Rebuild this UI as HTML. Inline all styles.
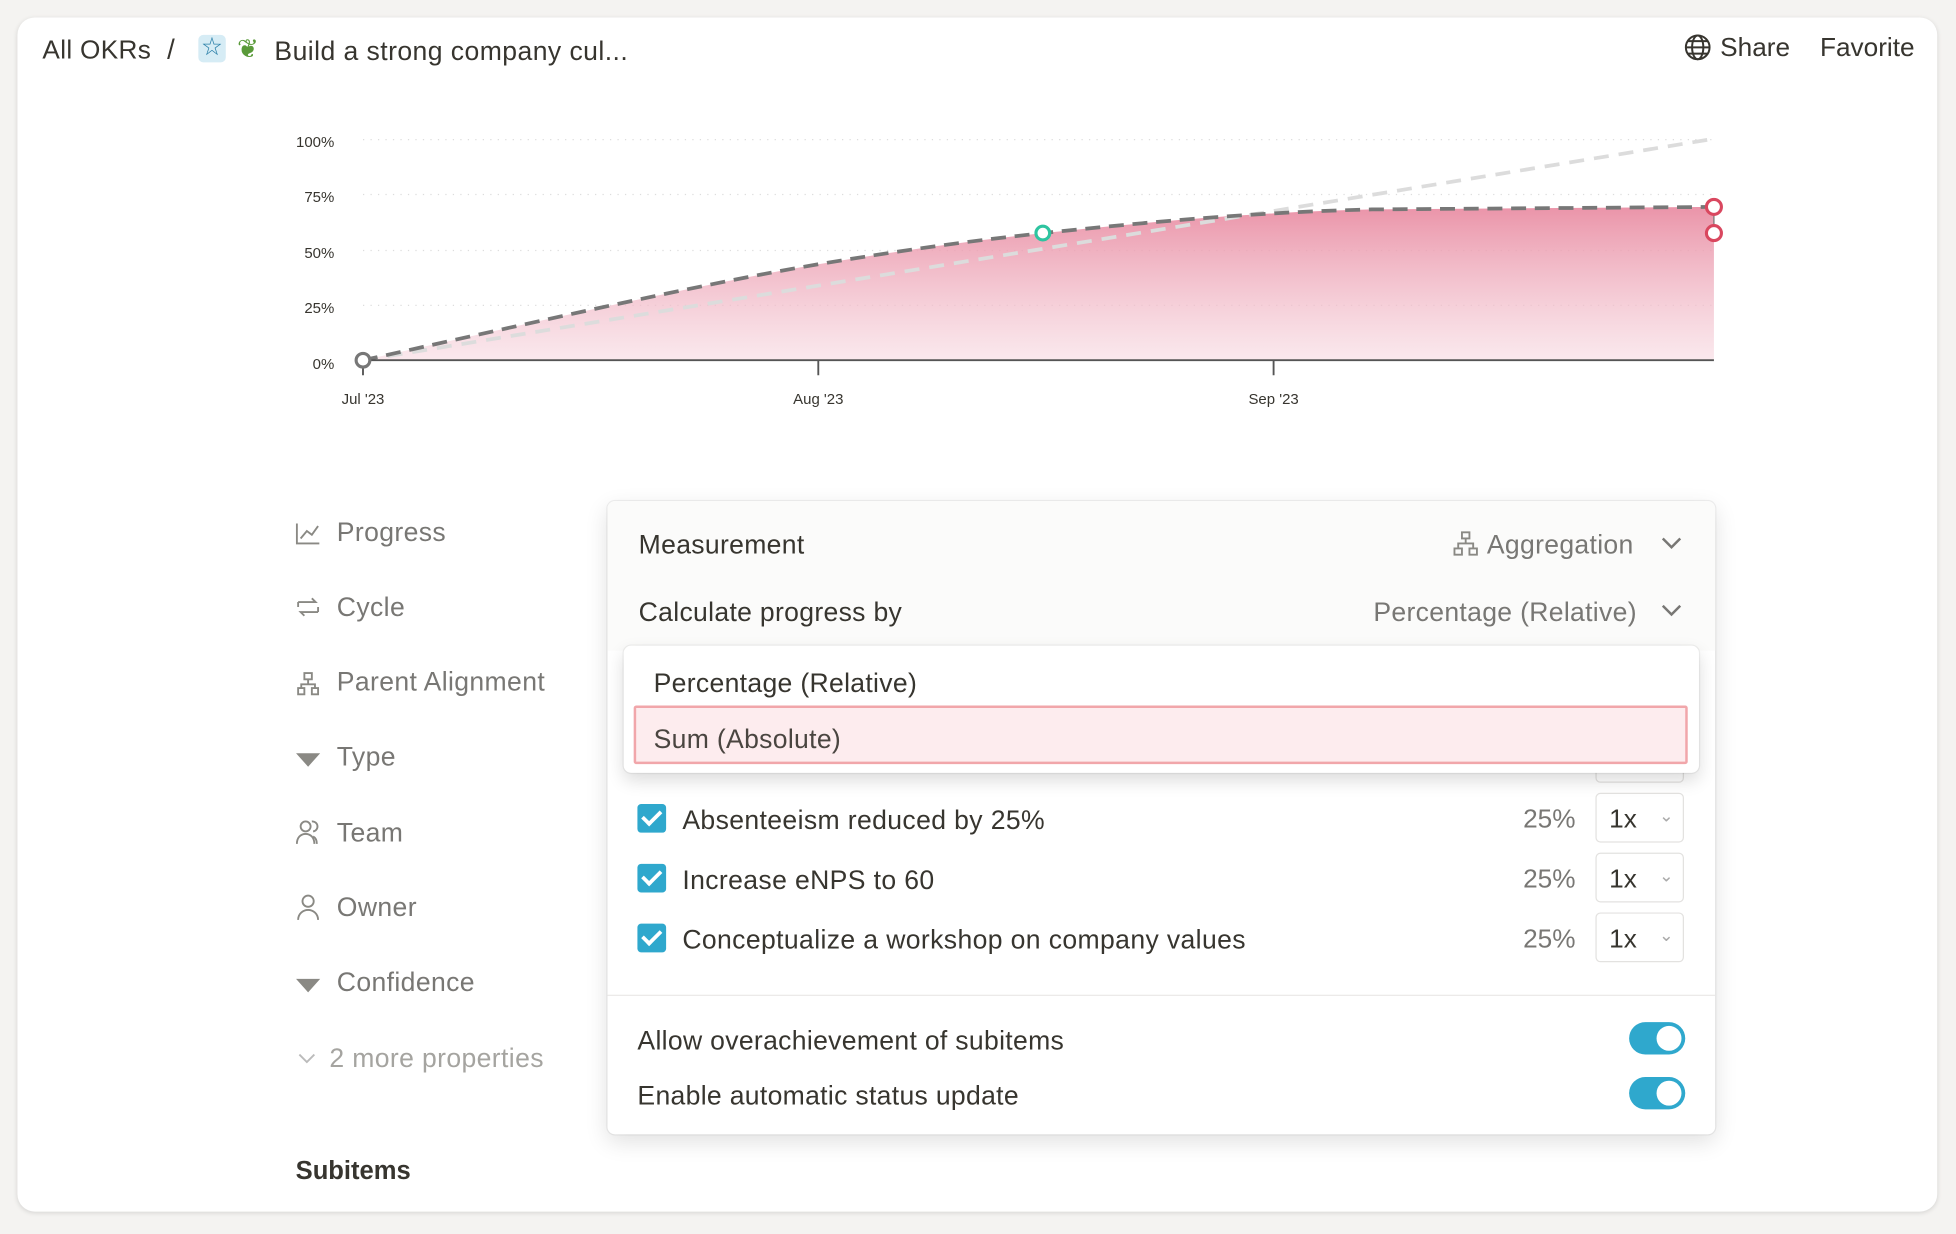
<!DOCTYPE html>
<html><head><meta charset="utf-8"><style>
html,body{margin:0;padding:0;width:1956px;height:1234px;overflow:hidden;background:#f4f3f1;font-family:"Liberation Sans","Noto Sans CJK JP",sans-serif;color:#37352f}
#s{position:absolute;left:0;top:0;width:1568px;height:990px;transform:scale(1.2474,1.2465);transform-origin:0 0}
.t{letter-spacing:.25px}
.card{position:absolute;left:14px;top:14px;width:1539px;height:958px;background:#fff;border-radius:14px;box-shadow:0 1px 4px rgba(0,0,0,.12)}
.a{position:absolute;white-space:nowrap}
.prop{position:absolute;left:270px;font-size:21.3px;color:#787774;letter-spacing:.3px}
.panel{position:absolute;left:487px;top:402px;width:888px;height:508px;background:#fff;border-radius:6px;box-shadow:0 0 0 1px rgba(0,0,0,.06),0 6px 18px rgba(0,0,0,.12)}
.pop{position:absolute;left:500px;top:518px;width:862px;height:102px;background:#fff;border-radius:6px;box-shadow:0 0 0 1px rgba(0,0,0,.05),0 6px 14px rgba(0,0,0,.14)}
.cb{position:absolute;left:511px;width:23px;height:23px;background:#2fa8cd;border-radius:3px}
.cb:after{content:"";position:absolute;left:7px;top:2px;width:6px;height:12px;border:solid #fff;border-width:0 3px 3px 0;transform:rotate(45deg)}
.row{position:absolute;left:547px;font-size:21.3px;color:#37352f;letter-spacing:.3px}
.pct{position:absolute;left:1221px;font-size:21px;color:#787774}
.mx{position:absolute;left:1279px;width:71px;height:40px;border:1px solid #e3e2e0;border-radius:4px;font-size:21px;color:#37352f;box-sizing:border-box}
.tg{position:absolute;left:1306px;width:45px;height:26px;border-radius:13px;background:#2fa8cd}
.tg:after{content:"";position:absolute;right:3px;top:3px;width:20px;height:20px;border-radius:50%;background:#fff}
</style></head><body><div id="s">
<div class="card"></div>
<div class="a t" style="left:34px;top:29px;font-size:21px">All OKRs</div>
<div class="a" style="left:134px;top:27px;font-size:22px">/</div>
<div class="a" style="left:159px;top:28px;width:22px;height:22px;background:#d6ecf5;border-radius:4px;color:#2a7fa8;font-size:16px;text-align:center;line-height:22px">☆</div>
<div class="a" style="left:190px;top:27px;font-size:21px;color:#5a9a3a">❦</div>
<div class="a" style="left:220px;top:29px;font-size:21.3px;letter-spacing:.35px">Build a strong company cul...</div>
<svg class="a" style="left:1350px;top:27px" width="22" height="22" viewBox="0 0 22 22" fill="none" stroke="#37352f" stroke-width="1.6"><circle cx="11" cy="11" r="9.5"/><ellipse cx="11" cy="11" rx="4.5" ry="9.5"/><path d="M1.5 11h19M3 6h16M3 16h16"/></svg>
<div class="a" style="left:1379px;top:27px;font-size:21px">Share</div>
<div class="a" style="left:1459px;top:27px;font-size:21px">Favorite</div>

<svg class="a" style="left:0;top:0" width="1568" height="340">
<defs><linearGradient id="g" x1="0" y1="0" x2="0" y2="1"><stop offset="0" stop-color="#e8889f" stop-opacity=".9"/><stop offset="1" stop-color="#f7d9e1" stop-opacity=".6"/></linearGradient></defs>
<g font-size="12" fill="#37352f" text-anchor="end" font-family="Liberation Sans,sans-serif">
<text x="268" y="118">100%</text><text x="268" y="162">75%</text><text x="268" y="207">50%</text><text x="268" y="251">25%</text><text x="268" y="296">0%</text></g>
<g stroke="#ddd" stroke-dasharray="1 5"><path d="M291 112H1374M291 156H1374M291 201H1374M291 245H1374"/></g>
<path d="M291 289 C400 265 560 228 656 212 C740 198 790 192 836 187 C950 175 1020 170 1100 168 L1374 166 L1374 289 Z" fill="url(#g)"/>
<path d="M291 289 L1370 112" stroke="#dcdcdc" stroke-width="3" stroke-dasharray="12 8" fill="none"/>
<path d="M291 289 C400 265 560 228 656 212 C740 198 790 192 836 187 C950 175 1020 170 1100 168 L1374 166" stroke="#777" stroke-width="3" stroke-dasharray="12 7" fill="none"/>
<path d="M291 289H1374M291 289v12M656 289v12M1021 289v12" stroke="#555" stroke-width="1.5"/>
<line x1="1374" y1="166" x2="1374" y2="187" stroke="#777"/>
<circle cx="291" cy="289" r="5.5" fill="#fff" stroke="#777" stroke-width="2.5"/>
<circle cx="836" cy="187" r="5.5" fill="#fff" stroke="#2ec4a0" stroke-width="2.5"/>
<circle cx="1374" cy="166" r="6" fill="#fff" stroke="#d9475f" stroke-width="2.5"/>
<circle cx="1374" cy="187" r="6" fill="#fff" stroke="#d9475f" stroke-width="2.5"/>
<g font-size="12" fill="#37352f" text-anchor="middle" font-family="Liberation Sans,sans-serif"><text x="291" y="324">Jul '23</text><text x="656" y="324">Aug '23</text><text x="1021" y="324">Sep '23</text></g>
</svg>

<svg class="a" style="left:237px;top:418px" width="20" height="460" fill="none" stroke="#8a8984" stroke-width="1.5">
<path d="M1 2v16h18M4 14l5-6 4 3 5-7"/>
<path d="M2 69h14l-3-3M18 77H4l3 3M2 69v4M18 77v-4" transform="translate(0,-4)"/>
<path d="M7 122h6v5H7zM2 134h5v5H2zM13 134h5v5h-5zM10 127v4M4.5 134v-3h11v3"/>
<path d="M2 187h16l-8 9z" fill="#8a8984"/>
<circle cx="8" cy="245" r="4"/><path d="M1 259c0-5 3-8 7-8s7 3 7 8M13 241a4 4 0 0 1 1 8M17 259c0-3-1-5-3-6"/>
<circle cx="10" cy="305" r="4.5"/><path d="M2 320c0-5 4-8 8-8s8 3 8 8"/>
<path d="M2 368h16l-8 9z" fill="#8a8984"/>
<path d="M3 428l6 6 6-6" stroke="#bbb"/>
</svg>
<div class="prop" style="top:415px">Progress</div>
<div class="prop" style="top:475px">Cycle</div>
<div class="prop" style="top:535px">Parent Alignment</div>
<div class="prop" style="top:595px">Type</div>
<div class="prop" style="top:656px">Team</div>
<div class="prop" style="top:716px">Owner</div>
<div class="prop" style="top:776px">Confidence</div>
<div class="prop" style="top:837px;left:264px;color:#a5a4a0">2 more properties</div>
<div class="a" style="left:237px;top:928px;font-size:20.5px;font-weight:bold">Subitems</div>

<div class="panel">
<div style="position:absolute;left:0;top:0;width:888px;height:120px;background:#fbfbfa;border-radius:6px 6px 0 0"></div>
<div style="position:absolute;left:0;top:396px;width:888px;height:1px;background:#ebeae8"></div>
</div>
<div class="a t" style="left:512px;top:425px;font-size:21.3px">Measurement</div>
<svg class="a" style="left:1164px;top:425px" width="22" height="22" fill="none" stroke="#8a8984" stroke-width="1.5"><path d="M8 2h6v5H8zM2 15h6v5H2zM14 15h6v5h-6zM11 7v4M5 15v-4h12v4"/></svg>
<div class="a t" style="left:1192px;top:425px;font-size:21.3px;color:#787774">Aggregation</div>
<svg class="a" style="left:1331px;top:429px" width="18" height="14" fill="none" stroke="#787774" stroke-width="2"><path d="M2 3l7 7 7-7"/></svg>
<div class="a t" style="left:512px;top:479px;font-size:21.3px">Calculate progress by</div>
<div class="a t" style="left:1101px;top:479px;font-size:21.3px;color:#787774">Percentage (Relative)</div>
<svg class="a" style="left:1331px;top:483px" width="18" height="14" fill="none" stroke="#787774" stroke-width="2"><path d="M2 3l7 7 7-7"/></svg>

<div class="mx" style="top:588px"></div>
<div class="cb" style="top:645px"></div><div class="row" style="top:646px">Absenteeism reduced by 25%</div><div class="pct" style="top:646px">25%</div><div class="mx" style="top:636px"><span style="position:absolute;left:10px;top:9px">1x</span><span style="position:absolute;left:50px;top:9px;font-size:14px;color:#aaa">⌄</span></div>
<div class="cb" style="top:693px"></div><div class="row" style="top:694px">Increase eNPS to 60</div><div class="pct" style="top:694px">25%</div><div class="mx" style="top:684px"><span style="position:absolute;left:10px;top:9px">1x</span><span style="position:absolute;left:50px;top:9px;font-size:14px;color:#aaa">⌄</span></div>
<div class="cb" style="top:741px"></div><div class="row" style="top:742px">Conceptualize a workshop on company values</div><div class="pct" style="top:742px">25%</div><div class="mx" style="top:732px"><span style="position:absolute;left:10px;top:9px">1x</span><span style="position:absolute;left:50px;top:9px;font-size:14px;color:#aaa">⌄</span></div>

<div class="a t" style="left:511px;top:823px;font-size:21.3px">Allow overachievement of subitems</div><div class="tg" style="top:820px"></div>
<div class="a t" style="left:511px;top:867px;font-size:21.3px">Enable automatic status update</div><div class="tg" style="top:864px"></div>

<div class="pop"></div>
<div class="a t" style="left:524px;top:536px;font-size:21.3px">Percentage (Relative)</div>
<div class="a" style="left:508px;top:566px;width:845px;height:47px;background:#fdecee;border:2px solid #f1a6aa;border-radius:2px;box-sizing:border-box"></div>
<div class="a t" style="left:524px;top:581px;font-size:21.3px;color:#4a4540">Sum (Absolute)</div>
</div></body></html>
